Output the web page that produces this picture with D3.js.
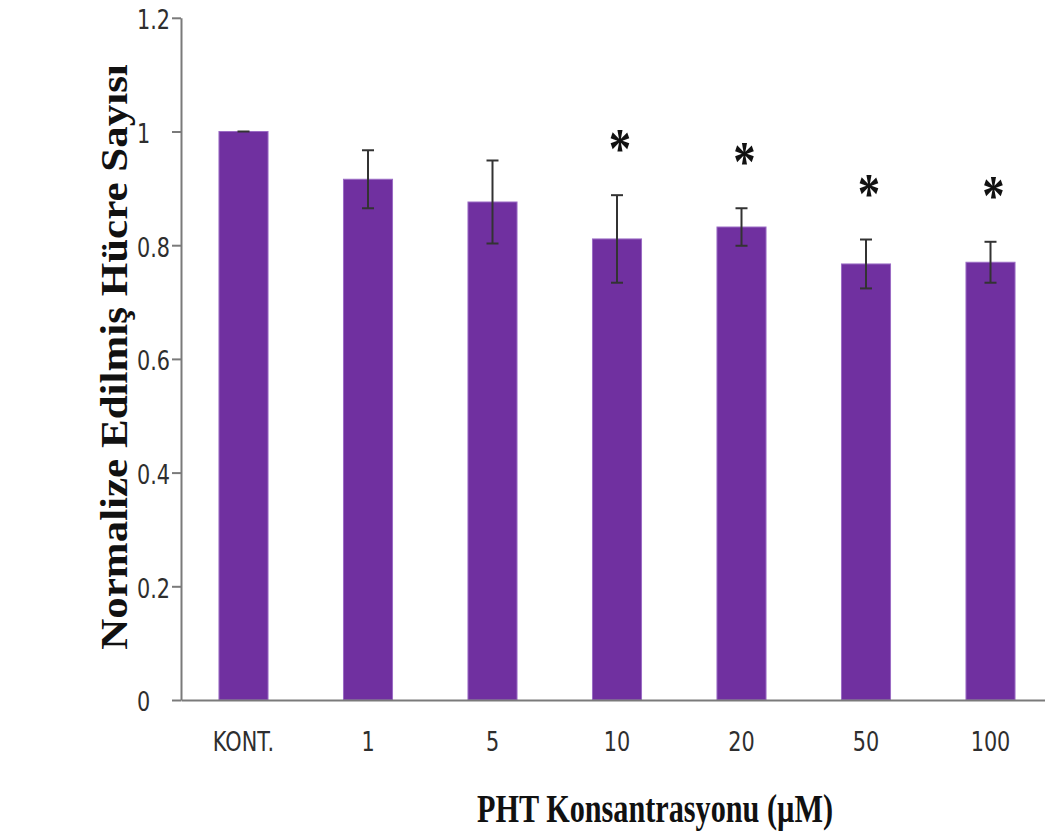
<!DOCTYPE html>
<html>
<head>
<meta charset="utf-8">
<script src="https://cdn.jsdelivr.net/npm/d3@7"></script>
<style>
  html, body { margin: 0; padding: 0; background: #fff; }
  svg { display: block; }
</style>
</head>
<body>
<svg id="chart" width="1045" height="838"></svg>
<script>
// Normalized cell counts per PHT concentration (mean ± error)
const categories = ["KONT.", "1", "5", "10", "20", "50", "100"];
const means      = [1.000, 0.916, 0.876, 0.811, 0.832, 0.767, 0.770];
const errors     = [0.000, 0.051, 0.073, 0.077, 0.033, 0.043, 0.036];
const significant = [false, false, false, true, true, true, true];
const yTicks = [0, 0.2, 0.4, 0.6, 0.8, 1, 1.2];
const yTickLabels = ["0", "0.2", "0.4", "0.6", "0.8", "1", "1.2"];

const svg = d3.select("#chart");

const x = d3.scaleBand()
  .domain(categories)
  .range([181, 1053])
  .paddingInner(0.606)
  .paddingOuter(0.305);

const y = d3.scaleLinear()
  .domain([0, 1.2])
  .range([700, 17.8]);

const rows = categories.map((c, i) => ({
  cat: c, mean: means[i], err: errors[i], sig: significant[i]
}));

// Bars
svg.append("g").selectAll("rect")
  .data(rows)
  .join("rect")
  .attr("x", d => x(d.cat))
  .attr("y", d => y(d.mean))
  .attr("width", x.bandwidth())
  .attr("height", d => y(0) - y(d.mean))
  .attr("fill", "#7030A0")
  .attr("stroke", "#9b6cc4")
  .attr("stroke-width", 1);

// Error bars
const eb = svg.append("g").attr("stroke", "#333").attr("stroke-width", 2);
rows.forEach(d => {
  const cx = x(d.cat) + x.bandwidth() / 2;
  const top = y(d.mean + d.err), bot = y(d.mean - d.err);
  if (d.err > 0) {
    eb.append("line").attr("x1", cx).attr("x2", cx).attr("y1", top).attr("y2", bot);
    eb.append("line").attr("x1", cx - 6).attr("x2", cx + 6).attr("y1", bot).attr("y2", bot);
  }
  eb.append("line").attr("x1", cx - 6).attr("x2", cx + 6).attr("y1", top).attr("y2", top);
});

// Significance asterisks
svg.append("g").selectAll("text")
  .data(rows.filter(d => d.sig))
  .join("text")
  .attr("transform", d => {
    const cx = x(d.cat) + x.bandwidth() / 2 + 3;
    return `translate(${cx},${y(d.mean + d.err) - 53 + 26}) scale(0.8,1)`;
  })
  .attr("text-anchor", "middle")
  .attr("font-family", "'Liberation Serif', 'Times New Roman', serif")
  .attr("font-weight", "bold")
  .attr("font-size", 56)
  .attr("fill", "#111")
  .text("*");

// Y axis
const yAxis = svg.append("g")
  .attr("transform", "translate(181,0)")
  .call(d3.axisLeft(y).tickValues(yTicks).tickFormat((d, i) => yTickLabels[i]).tickSize(9).tickSizeOuter(0));
yAxis.select(".domain").attr("stroke", "#7a7a7a").attr("stroke-width", 2);
yAxis.selectAll(".tick line").attr("stroke", "#7a7a7a").attr("stroke-width", 2);
yAxis.selectAll(".tick text")
  .attr("text-anchor", "start")
  .attr("x", -44 / 0.8)
  .attr("dy", "0.42em")
  .attr("transform", "scale(0.8,1)")
  .attr("font-family", "'DejaVu Sans', sans-serif")
  .attr("font-size", 26)
  .attr("fill", "#2e2e2e");

// X axis
const xAxis = svg.append("g")
  .attr("transform", `translate(0,${y(0)})`)
  .call(d3.axisBottom(x).tickSize(0).tickSizeOuter(0));
xAxis.select(".domain").attr("stroke", "#7a7a7a").attr("stroke-width", 2);
xAxis.selectAll(".tick text")
  .attr("y", 51)
  .attr("dy", 0)
  .attr("transform", "scale(0.8,1)")
  .attr("x", 0)
  .attr("font-family", "'DejaVu Sans', sans-serif")
  .attr("font-size", 26)
  .attr("fill", "#2e2e2e");

// Axis titles
svg.append("text")
  .attr("transform", "translate(655,822) scale(0.775,1)")
  .attr("text-anchor", "middle")
  .attr("font-family", "'Liberation Serif', 'Times New Roman', serif")
  .attr("font-weight", "bold")
  .attr("font-size", 39)
  .attr("fill", "#111")
  .text("PHT Konsantrasyonu (µM)");

svg.append("text")
  .attr("transform", "translate(127,357) scale(0.88,1) rotate(-90)")
  .attr("text-anchor", "middle")
  .attr("font-family", "'Liberation Serif', 'Times New Roman', serif")
  .attr("font-weight", "bold")
  .attr("font-size", 43)
  .attr("fill", "#111")
  .text("Normalize Edilmiş Hücre Sayısı");
</script>
</body>
</html>
